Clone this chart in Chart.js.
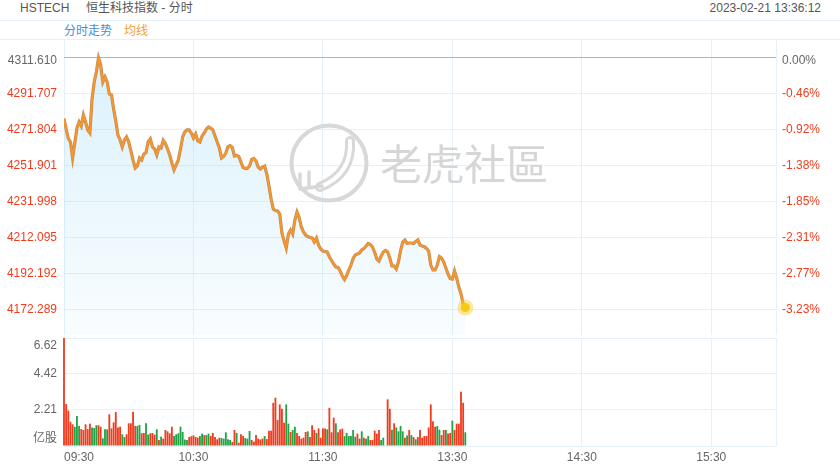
<!DOCTYPE html>
<html><head><meta charset="utf-8">
<script src="https://cdn.jsdelivr.net/npm/chart.js@4.4.1/dist/chart.umd.min.js"></script>
<style>
html,body{margin:0;padding:0;background:#fff;}
body{width:840px;height:470px;position:relative;overflow:hidden;font-family:Arial,"Liberation Sans","Noto Sans CJK SC",sans-serif;}
.t{position:absolute;font-size:12px;line-height:14px;white-space:nowrap;}
#tabs{position:absolute;left:0;top:20px;width:840px;height:18px;border-top:1px solid #e4f1f8;border-bottom:1px solid #e4f1f8;}
canvas{position:absolute;left:0;}
</style></head>
<body>
<div class="t" style="left:20px;top:1px;color:#555">HSTECH</div>
<div class="t" style="left:86px;top:1px;color:#555">恒生科技指数 - 分时</div>
<div class="t" style="right:19px;top:1px;color:#555">2023-02-21 13:36:12</div>
<div id="tabs"></div>
<div class="t" style="left:64px;top:24px;color:#3d8fe3">分时走势</div>
<div class="t" style="left:124px;top:24px;color:#f5a030">均线</div>
<canvas id="p" width="840" height="296" style="top:39px;width:840px;height:296px"></canvas>
<canvas id="v" width="840" height="141" style="top:329px;width:840px;height:141px"></canvas>
<script>
// ---- data ----
const prevClose = 4311.610;
const timeTickMinutes = [0, 60, 120, 180, 240, 300, 330];
const timeTickLabels = ['09:30', '10:30', '11:30', '13:30', '14:30', '15:30', ''];
const priceTickValues = [4311.610, 4291.707, 4271.804, 4251.901, 4231.998, 4212.095, 4192.192, 4172.289];
const pctTickLabels = ['0.00%', '-0.46%', '-0.92%', '-1.38%', '-1.85%', '-2.31%', '-2.77%', '-3.23%'];
const priceAxisMin = 4158.1;
const priceAxisMax = 4321.7;
const volTickValues = [6.62, 4.42, 2.21, 0];
const volTickLabels = ['6.62', '4.42', '2.21', '亿股'];
const volAxisMax = 6.62;

const prices = [
4277.66,4271.97,4266.61,4264.78,4255.94,4264.23,4272.52,4275.84,4273.63,4279.71,
4275.84,4271.42,4269.76,4288.56,4297.95,4303.48,4311.22,4307.35,4297.95,4300.72,
4297.95,4291.32,4290.77,4283.03,4276.39,4268.65,4265.89,4262.02,4265.89,4267.55,
4264.78,4259.81,4254.83,4250.41,4251.52,4255.94,4254.83,4258.15,4258.87,4264.78,
4266.44,4262.02,4260.91,4257.60,4262.02,4261.47,4265.61,4263.95,4260.91,4257.60,
4253.17,4249.30,4252.07,4254.83,4260.91,4267.55,4270.31,4271.42,4271.42,4269.76,
4267.00,4269.21,4265.34,4264.78,4268.10,4269.76,4271.97,4273.08,4272.52,4271.42,
4268.10,4264.78,4261.47,4255.94,4256.77,4258.70,4262.19,4262.74,4261.74,4257.04,
4257.32,4256.77,4253.73,4250.69,4250.24,4250.24,4251.52,4255.11,4255.66,4254.28,
4250.96,4249.86,4250.96,4251.52,4247.09,4240.46,4233.27,4227.74,4226.91,4226.64,
4224.98,4214.47,4210.05,4206.18,4213.92,4216.13,4213.92,4221.66,4226.08,4223.04,
4217.79,4215.03,4213.37,4212.54,4211.99,4211.71,4209.50,4211.71,4207.84,4205.63,
4204.52,4204.14,4203.97,4201.21,4199.27,4197.34,4195.68,4195.40,4193.47,4190.70,
4188.77,4190.98,4194.02,4196.78,4200.38,4202.31,4202.86,4203.42,4205.08,4205.91,
4207.29,4208.67,4208.12,4206.73,4203.69,4200.10,4198.99,4201.76,4203.97,4204.80,
4203.97,4200.65,4196.23,4196.23,4194.57,4198.44,4204.80,4209.50,4210.60,4208.67,
4208.95,4208.95,4208.67,4209.78,4210.60,4207.84,4207.29,4206.90,4205.91,4204.52,
4196.78,4194.02,4194.02,4196.78,4201.48,4200.65,4198.44,4195.12,4191.81,4189.32,
4189.04,4193.47,4189.60,4184.62,4180.75,4175.22,4173.29
];

const volumes = [
6.62,2.57,2.17,1.49,1.33,1.18,1.84,1.23,1.04,0.98,
1.33,1.04,1.37,1.14,1.10,1.27,1.27,1.18,0.47,1.02,
1.02,1.94,1.08,1.45,2.08,1.14,1.18,0.72,0.55,0.72,
1.39,1.39,2.10,1.23,1.23,1.29,0.78,0.80,1.39,0.70,
0.78,0.80,0.70,1.02,0.37,0.57,0.45,0.98,0.90,0.78,
1.18,0.62,0.72,0.78,1.18,0.86,0.40,0.37,0.55,0.60,
0.65,0.55,0.51,0.61,0.76,0.67,0.67,0.76,0.61,0.80,
0.55,0.41,0.51,0.49,0.45,0.84,0.41,0.37,0.25,0.98,
0.80,0.20,0.72,0.61,0.49,0.45,0.92,0.37,0.27,0.67,
0.45,0.40,0.45,0.61,0.43,0.94,0.94,2.65,2.96,1.59,
2.55,2.28,1.43,2.55,1.37,0.86,0.98,1.18,0.80,0.61,
0.45,0.51,0.86,0.90,0.55,1.27,0.98,0.80,1.08,0.51,
1.08,1.08,1.02,2.34,0.84,1.74,1.39,0.84,1.02,1.06,
0.61,0.80,0.61,0.61,0.98,0.57,0.76,0.45,0.90,0.51,
0.45,0.61,0.37,0.37,0.94,0.76,0.98,0.37,0.51,0.04,
2.86,2.28,1.00,1.39,1.14,0.90,1.23,0.90,0.51,0.65,
0.98,0.67,0.55,0.41,0.55,0.98,0.51,0.61,0.61,1.14,
2.55,1.51,1.18,1.23,1.00,0.67,0.98,0.98,0.76,0.80,
1.55,0.98,1.37,1.37,3.33,2.65,0.84
];

const volUp = [
1,1,1,1,1,0,0,0,1,1,
1,1,1,0,0,0,1,1,0,0,
0,1,1,1,1,1,1,0,0,1,
1,1,1,1,0,0,1,1,0,0,
1,1,1,0,1,0,1,1,1,1,
1,0,0,0,0,0,0,0,1,1,
1,1,1,0,0,1,0,0,1,1,
1,1,1,0,0,0,0,0,1,1,
0,1,1,1,0,0,0,1,1,1,
1,1,1,0,1,1,1,1,1,1,
1,1,1,0,0,1,0,0,1,1,
1,1,1,0,1,1,1,0,1,1,
1,1,0,1,1,1,0,1,1,1,
0,0,0,0,0,0,1,1,0,1,
0,0,1,1,1,1,1,0,0,0,
1,1,0,1,0,0,0,0,1,0,
1,0,1,0,1,1,1,1,1,1,
1,1,1,0,0,1,1,0,1,1,
0,1,1,1,1,1,0
];

// ---- styling ----
const FONT = 'Arial, "Liberation Sans", "Noto Sans CJK SC", sans-serif';
const RED = '#f03c1e', GREEN = '#22a245', GRAY = '#666', GRID = '#e4f1f8';

const pricePts = prices.map((v, i) => ({x: i, y: v}));
const volPts = volumes.map((v, i) => ({x: i, y: v}));

function setTicks(values) { return s => { s.ticks = values.map(v => ({value: v})); }; }
// top label sits a little below its grid line (two-line block with a short empty first line)
const priceTickFont = c => ({family: FONT, size: 12, lineHeight: c.index === 0 ? 0.5 : 1.2});

const watermark = {
  id: 'watermark',
  afterDatasetsDraw(chart) {
    const c = chart.ctx;
    c.save();
    c.strokeStyle = '#d8d8d8';
    c.lineWidth = 4;
    c.beginPath(); c.arc(329, 124, 37.5, 0, Math.PI * 2); c.stroke();
    c.lineCap = 'round';
    c.lineWidth = 10;
    c.beginPath(); c.moveTo(350, 102); c.quadraticCurveTo(352, 135, 320, 148); c.stroke();
    c.strokeStyle = '#fff'; c.lineWidth = 4;
    c.beginPath(); c.moveTo(350, 102); c.quadraticCurveTo(352, 135, 320, 148); c.stroke();
    c.strokeStyle = '#d8d8d8'; c.lineWidth = 3.5;
    c.beginPath();
    c.moveTo(300, 135); c.lineTo(300, 150);
    c.moveTo(309, 133); c.lineTo(309, 149);
    c.moveTo(300, 150); c.lineTo(322, 147);
    c.stroke();
    c.fillStyle = '#d6d6d6';
    c.font = '42px "Noto Sans CJK TC", "Noto Sans CJK SC", sans-serif';
    c.textBaseline = 'middle';
    c.fillText('老虎社區', 380, 125);
    c.restore();
  }
};

new Chart(document.getElementById('p'), {
  type: 'line',
  data: {datasets: [
    {
      data: pricePts, xAxisID: 'x', yAxisID: 'y',
      borderColor: '#f7962b', borderWidth: 2, fill: false, tension: 0,
      pointRadius: c => c.dataIndex === prices.length - 1 ? 4.5 : 0,
      pointBackgroundColor: '#f7c600',
      pointBorderColor: 'rgba(248,205,40,0.45)',
      pointBorderWidth: 7, pointHoverRadius: 0
    },
    {
      data: pricePts, xAxisID: 'x', yAxisID: 'y',
      borderColor: '#bc8c5c', borderWidth: 3.2, pointRadius: 0, tension: 0,
      fill: 'start',
      backgroundColor: c => {
        const {ctx, chartArea} = c.chart;
        if (!chartArea) return 'rgba(150,215,245,0.2)';
        const g = ctx.createLinearGradient(0, chartArea.top, 0, chartArea.bottom);
        g.addColorStop(0, 'rgba(150,215,245,0.36)');
        g.addColorStop(1, 'rgba(150,215,245,0.06)');
        return g;
      }
    }
  ]},
  options: {
    responsive: false, animation: false, devicePixelRatio: 1,
    layout: {padding: 0, autoPadding: false},
    plugins: {legend: {display: false}, tooltip: {enabled: false}},
    scales: {
      x: {
        type: 'linear', min: 0, max: 330,
        afterBuildTicks: setTicks(timeTickMinutes),
        ticks: {display: false},
        grid: {color: GRID, drawTicks: false},
        border: {display: false},
        afterFit: s => { s.height = 0; s.paddingLeft = 0; s.paddingRight = 0; }
      },
      y: {
        position: 'left', min: priceAxisMin, max: priceAxisMax,
        afterBuildTicks: setTicks(priceTickValues),
        ticks: {
          autoSkip: false, padding: 7,
          callback: (v, i) => i === 0 ? ['', priceTickValues[i].toFixed(3)] : priceTickValues[i].toFixed(3),
          color: c => c.index === 0 ? GRAY : RED,
          font: priceTickFont
        },
        grid: {color: c => (c.tick && c.tick.value === prevClose) ? '#b4b4b4' : GRID, drawTicks: false},
        border: {display: false},
        afterFit: s => { s.width = 64; s.paddingTop = 0; s.paddingBottom = 0; }
      },
      yPct: {
        position: 'right', min: priceAxisMin, max: priceAxisMax,
        afterBuildTicks: setTicks(priceTickValues),
        ticks: {
          autoSkip: false, padding: 6,
          callback: (v, i) => i === 0 ? ['', pctTickLabels[i]] : pctTickLabels[i],
          color: c => c.index === 0 ? GRAY : RED,
          font: priceTickFont
        },
        grid: {display: false, drawTicks: false},
        border: {display: false},
        afterFit: s => { s.width = 64; s.paddingTop = 0; s.paddingBottom = 0; }
      }
    }
  },
  plugins: [watermark]
});

new Chart(document.getElementById('v'), {
  type: 'bar',
  data: {datasets: [{
    data: volPts,
    backgroundColor: volUp.map(u => u ? RED : GREEN),
    barPercentage: 0.85, categoryPercentage: 1, clip: false
  }]},
  options: {
    responsive: false, animation: false, devicePixelRatio: 1,
    layout: {padding: {top: 9, right: 64, left: 0, bottom: 0}, autoPadding: false},
    plugins: {legend: {display: false}, tooltip: {enabled: false}},
    scales: {
      x: {
        type: 'linear', min: 0, max: 330, offset: false,
        afterBuildTicks: setTicks(timeTickMinutes),
        ticks: {
          autoSkip: false, maxRotation: 0, align: 'inner', padding: 4,
          callback: (v, i) => timeTickLabels[i],
          color: GRAY, font: {family: FONT, size: 12}
        },
        grid: {color: GRID, drawTicks: false, offset: false},
        border: {display: false},
        afterFit: s => { s.height = 24; s.paddingLeft = 0; s.paddingRight = 0; }
      },
      y: {
        min: 0, max: volAxisMax,
        afterBuildTicks: setTicks(volTickValues),
        ticks: {
          autoSkip: false, padding: 7,
          callback: (v, i) => i === 0 ? ['', volTickLabels[i]]
            : (i === volTickLabels.length - 1 ? [volTickLabels[i], ''] : volTickLabels[i]),
          color: GRAY, font: {family: FONT, size: 12}
        },
        grid: {color: GRID, drawTicks: false},
        border: {display: false},
        afterFit: s => { s.width = 64; s.paddingTop = 0; s.paddingBottom = 0; }
      }
    }
  }
});
</script>
</body></html>
